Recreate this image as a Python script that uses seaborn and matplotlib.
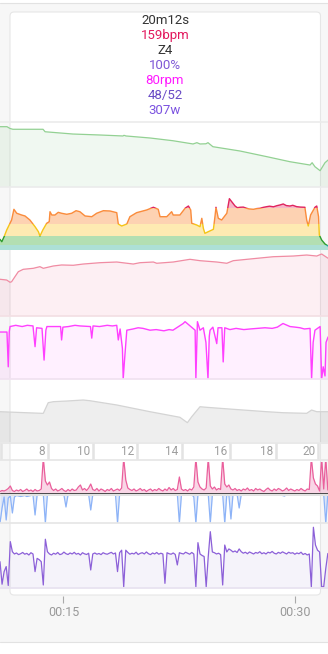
import numpy as np
import matplotlib
matplotlib.use("Agg")
import matplotlib.pyplot as plt
import seaborn as sns
from matplotlib.patches import Rectangle, FancyBboxPatch
from matplotlib.lines import Line2D
import matplotlib.transforms as mtransforms

# ---------------- data (time in seconds) ----------------
green_pts = [(654, 92.8), (681, 92.8), (693, 90), (704, 88.8), (821, 88.8), (829, 85), (937, 81.5),
             (1042, 80), (1131, 78.5), (1135, 79.5), (1143, 78.5), (1236, 75.4), (1325, 71.2),
             (1403, 66.2), (1418, 68.2), (1430, 66.2), (1453, 66.5), (1461, 68.2), (1480, 62),
             (1585, 55.4), (1690, 46.6), (1779, 38.9), (1857, 33.8), (1865, 37.4), (1876, 31.2),
             (1896, 25.1), (1915, 37.4), (1927, 41.5)]

hr_pts = [(654, 129.8), (661, 125.8), (670, 134.2), (680, 145.3), (699, 162), (708, 179.8), (719, 173.2),
          (738, 170.3), (751, 168.7), (770, 162), (790, 150.8), (803, 142.5), (809, 135.3), (820, 145.3),
          (835, 156.5), (845, 159.2), (848, 175.8), (855, 170.3), (867, 170.3), (880, 174.8), (893, 173.2),
          (913, 171.5), (932, 173.2), (949, 177.5), (964, 175.8), (984, 168.7), (1010, 167.5), (1029, 173.2),
          (1055, 177.5), (1081, 177), (1107, 174.2), (1113, 155.3), (1126, 152), (1146, 155.3), (1158, 167.5),
          (1184, 174.2), (1223, 178.7), (1249, 183.2), (1268, 179.8), (1275, 167.5), (1301, 167.5),
          (1320, 175.8), (1326, 170.3), (1352, 170.3), (1372, 181.5), (1385, 185.3), (1394, 178.7),
          (1398, 156.5), (1417, 153.7), (1430, 150.8), (1437, 164.8), (1443, 148.2), (1449, 139.8),
          (1462, 142.5), (1482, 146.5), (1488, 167.5), (1492, 183.2), (1501, 164.8), (1514, 162),
          (1534, 173.2), (1544, 197.5), (1553, 192.5), (1566, 185.3), (1575, 182.5), (1585, 183.2),
          (1598, 183.5), (1611, 181.5), (1620, 180.5), (1637, 179.8), (1650, 181), (1663, 181.5),
          (1675, 183), (1689, 184.2), (1700, 185), (1715, 184), (1728, 185.8), (1740, 187), (1753, 188.7),
          (1765, 186), (1779, 185.3), (1790, 186.5), (1805, 184.2), (1820, 183.5), (1837, 183.2),
          (1844, 162), (1850, 152), (1859, 170.3), (1876, 183.2), (1883, 185.3), (1890, 167.5),
          (1893, 137), (1902, 128.7), (1915, 122), (1927, 118.7)]
hr_zone_edges = [112, 120, 135, 155, 182, 260]

pink_pts = [(654, 58.3), (680, 57.1), (693, 53.5), (699, 54.4), (712, 62.4), (725, 70.3), (744, 74.1),
            (783, 75.7), (809, 78.3), (822, 75.7), (861, 79.4), (893, 81), (938, 80.5), (977, 82.5),
            (1042, 84.6), (1107, 85.7), (1171, 82.5), (1197, 84.6), (1249, 85.7), (1262, 83.7),
            (1326, 85.7), (1391, 90), (1430, 87.8), (1495, 85.7), (1534, 83.7), (1559, 87.8),
            (1637, 91), (1714, 94.1), (1792, 95.2), (1844, 96.8), (1883, 95.2), (1902, 98.4), (1927, 91.6)]

cad_pts = [(654, 77), (681, 77), (686, 20), (690, 78), (693, 86), (715, 88), (740, 86), (760, 88),
           (782, 87), (790, 53), (796, 84), (817, 83), (825, 31), (832, 80), (836, 86), (889, 86),
           (893, 64), (898, 85), (920, 86), (945, 88), (964, 87), (1005, 86), (1010, 67), (1015, 87),
           (1040, 86), (1070, 88), (1090, 87), (1107, 88), (1113, 64), (1120, 82), (1129, 50), (1132, 0),
           (1137, 30), (1146, 80), (1170, 82), (1190, 84), (1209, 83), (1236, 80), (1260, 81), (1290, 79),
           (1310, 81), (1325, 80), (1365, 91), (1372, 94), (1411, 80), (1414, 0), (1420, 94), (1430, 80),
           (1443, 84), (1453, 60), (1461, 0), (1466, 70), (1469, 80), (1480, 85), (1495, 58), (1500, 84),
           (1515, 84), (1520, 28), (1526, 84), (1546, 81), (1570, 83), (1600, 81), (1624, 82), (1682, 84),
           (1710, 83), (1730, 85), (1752, 91), (1779, 86), (1800, 85), (1818, 84), (1835, 82), (1857, 83),
           (1863, 0), (1869, 60), (1876, 80), (1896, 86), (1902, 0), (1908, 20), (1915, 5), (1919, 60),
           (1927, 69)]

grey_pts = [(654, 50.5), (816, 47.8), (822, 47.8), (841, 65.5), (861, 67.2), (913, 68.3), (977, 70),
            (1003, 68.8), (1107, 61.7), (1236, 50.5), (1352, 41.2), (1381, 32.2), (1398, 42.2),
            (1430, 58.8), (1456, 57.8), (1559, 54.5), (1689, 50.5), (1753, 48.8), (1844, 47.8),
            (1863, 53.3), (1883, 50.5), (1927, 50.5)]

dist_km = [6, 8, 10, 12, 14, 16, 18, 20]
dist_t = [658, 841, 1016, 1187, 1359, 1546, 1725, 1889]

# sampled series (one sample every 8 s starting at 654 s)
sample_start, sample_step = 654, 8
bal_up = [3, 5, 4, 6, 9, 14, 5, 3, 6, 4,
          7, 3, 5, 8, 4, 6, 3, 7, 4, 5,
          8, 70, 24, 16, 22, 9, 5, 8, 4, 6,
          9, 5, 3, 7, 4, 8, 5, 6, 12, 16,
          6, 9, 5, 10, 18, 7, 5, 9, 4, 8,
          6, 3, 7, 5, 9, 4, 6, 8, 5, 10,
          70, 26, 10, 7, 5, 8, 4, 6, 9, 5,
          7, 3, 6, 8, 4, 7, 5, 9, 6, 4,
          8, 5, 11, 6, 9, 5, 7, 32, 8, 5,
          7, 4, 8, 6, 12, 70, 22, 12, 8, 6,
          10, 70, 14, 8, 12, 6, 9, 7, 70, 18,
          12, 16, 8, 6, 9, 5, 7, 4, 8, 6,
          10, 5, 7, 4, 9, 6, 8, 5, 3, 7,
          10, 6, 4, 8, 5, 9, 7, 4, 6, 10,
          5, 8, 6, 4, 7, 5, 9, 6, 4, 8,
          7, 70, 30, 18, 14, 4, 70, 8, 70, 6]
bal_down = [-60, -30, -8, -54, -10, -6, -40, -8, -5, -6,
            -7, -6, -5, -7, -6, -5, -4, -44, -4, -3,
            -4, -3, -60, -3, -2, -3, -2, -4, -3, -2,
            -3, -4, -28, -3, -2, -3, -2, -3, -4, -2,
            -3, -2, -4, -3, -34, -3, -2, -3, -2, -4,
            -3, -2, -3, -4, -2, -3, -2, -60, -3, -2,
            -3, -2, -4, -3, -2, -3, -2, -3, -4, -2,
            -3, -2, -3, -2, -4, -3, -2, -3, -2, -3,
            -4, -2, -3, -2, -3, -4, -2, -60, -3, -2,
            -3, -2, -4, -3, -8, -60, -3, -2, -3, -2,
            -4, -3, -60, -3, -2, -3, -2, -4, -3, -60,
            -3, -4, -52, -3, -2, -3, -30, -3, -2, -3,
            -2, -4, -3, -2, -3, -2, -3, -4, -2, -3,
            -2, -3, -4, -2, -3, -2, -3, -5, -6, -3,
            -2, -3, -4, -2, -3, -2, -3, -4, -2, -3,
            -2, -3, -4, -3, -2, -3, -4, -3, -60, -3]
power_w = [209, 30, 130, 170, 20, 368, 288, 270, 278, 265,
           272, 282, 268, 275, 262, 280, 270, 130, 235, 225,
           209, 24, 387, 288, 270, 262, 276, 268, 282, 265,
           270, 285, 272, 266, 278, 270, 283, 268, 275, 262,
           280, 271, 266, 276, 143, 270, 278, 268, 274, 265,
           280, 272, 268, 276, 283, 270, 278, 130, 280, 300,
           10, 300, 282, 268, 276, 270, 284, 266, 275, 280,
           270, 286, 272, 265, 278, 270, 282, 268, 276, 270,
           37, 280, 272, 268, 278, 266, 183, 280, 274, 270,
           284, 276, 268, 282, 270, 10, 360, 270, 258, 250,
           10, 250, 447, 286, 280, 270, 276, 265, 24, 341,
           286, 310, 300, 286, 294, 282, 310, 288, 276, 284,
           272, 286, 278, 270, 282, 276, 288, 272, 280, 270,
           284, 278, 290, 276, 270, 283, 275, 287, 278, 270,
           284, 276, 280, 268, 278, 272, 284, 266, 274, 262,
           270, 10, 482, 341, 300, 286, 10, 10, 155, 274]

tooltip_lines = ["20m12s", "159bpm", "Z4", "100%", "80rpm", "48/52", "307w"]
tooltip_colors = ["#333333", "#e2195e", "#333333", "#7e57d6", "#ff1aff", "#6a4cc6", "#7b52e0"]
time_ticks = [900, 1800]
time_labels = ["00:15", "00:30"]

# ---------------- style ----------------
sns.set_theme(style="white")
plt.rcParams['font.family'] = ['Roboto', 'DejaVu Sans']

W, H = 328, 654
T0, T1 = 654, 654 + 328 * 3.88
fig = plt.figure(figsize=(W / 100, H / 100), dpi=100)
fig.patch.set_facecolor('white')
ident = mtransforms.IdentityTransform()

# page background and borders
fig.add_artist(Rectangle((0, H - 641.5), W, 639, transform=ident, fc='#f7f7f7', ec='none', zorder=-3))
for yy in (2.5, 641.5):
    fig.add_artist(Line2D([0, W], [H - yy, H - yy], transform=ident, color='#e2e2e2', lw=0.8, zorder=-2))
# tooltip box
fig.add_artist(FancyBboxPatch((10, H - 595), 310.5, 583, boxstyle='round,pad=0,rounding_size=4',
                              transform=ident, fc='white', ec='#e6e6e6', lw=0.8, zorder=-1))


def ax_at(top, bottom):
    a = fig.add_axes([0, 1 - bottom / H, 1, (bottom - top) / H])
    a.set_facecolor('none')
    for s in a.spines.values():
        s.set_visible(False)
    return a


def finish(a):
    a.set_xlim(T0, T1)
    a.set_xticks([])
    a.set_yticks([])
    a.set_xlabel('')
    a.set_ylabel('')


def line(a, t, v, color, lw=0.9, z=2):
    sns.lineplot(x=t, y=v, ax=a, color=color, linewidth=lw, estimator=None, sort=False, legend=False)
    ln = a.lines[-1]
    ln.set_solid_joinstyle('round')
    ln.set_zorder(z)
    return ln


def split(pts):
    pts = sorted(pts)
    return np.array([p[0] for p in pts], float), np.array([p[1] for p in pts], float)


samp_t = sample_start + sample_step * np.arange(len(power_w))

# P1 green
a1 = ax_at(122, 187)
t, v = split(green_pts)
a1.fill_between(t, 0, v, color='#4caf50', alpha=0.08, lw=0)
line(a1, t, v, '#93d193')
a1.set_ylim(0, 100)
for s in ('top', 'bottom'):
    a1.spines[s].set_visible(True)
    a1.spines[s].set_color('#ebebeb')
    a1.spines[s].set_linewidth(1.2)
finish(a1)

# P2 HR zones
a2 = ax_at(188, 250)
t, v = split(hr_pts)
zone_fill = ['#ade0d6', '#b3dfb2', '#feeab2', '#fdd2b2', '#f5b7c8']
zone_line = ['#26a69a', '#2e9d2e', '#f5c518', '#fa8c3c', '#e0245e']
for k in range(5):
    lo, hi = hr_zone_edges[k], hr_zone_edges[k + 1]
    poly = a2.fill_between(t, hr_zone_edges[0], v, color=zone_fill[k], lw=0)
    poly.set_clip_path(Rectangle((T0, lo), T1 - T0, hi - lo, transform=a2.transData))
    ln = line(a2, t, v, zone_line[k], lw=1.0)
    ln.set_clip_path(Rectangle((T0, lo), T1 - T0, hi - lo, transform=a2.transData))
a2.set_ylim(112, 215.3)
finish(a2)

# P3 pink
a3 = ax_at(253, 316)
t, v = split(pink_pts)
a3.fill_between(t, 0, v, color='#e91e63', alpha=0.07, lw=0)
line(a3, t, v, '#f08ca3')
a3.set_ylim(0, 100)
a3.spines['bottom'].set_visible(True)
a3.spines['bottom'].set_color('#f3dfe4')
finish(a3)

# P4 cadence
a4 = ax_at(318, 379)
t, v = split(cad_pts)
a4.fill_between(t, 0, v, color='#ff00ff', alpha=0.06, lw=0)
line(a4, t, v, '#ff40ff', lw=1.0)
a4.set_ylim(0, 100)
a4.spines['bottom'].set_visible(True)
a4.spines['bottom'].set_color('#f1e2f1')
finish(a4)

# P5 grey
a5 = ax_at(382, 442)
t, v = split(grey_pts)
a5.fill_between(t, 0, v, color='#000000', alpha=0.065, lw=0)
line(a5, t, v, '#d4d4d4')
a5.set_ylim(0, 100)
finish(a5)

# distance band
ad = ax_at(443, 460)
for s in ('top', 'bottom'):
    ad.spines[s].set_visible(True)
    ad.spines[s].set_color('#e6e6e6')
ad.vlines(dist_t, 0, 1, transform=ad.get_xaxis_transform(), color='#e3e3e3', lw=1.8)
lbl_tr = mtransforms.offset_copy(ad.get_xaxis_transform(), fig=fig, x=-3, y=0, units='dots')
for km, tt in zip(dist_km, dist_t):
    if tt - T0 < 40:   # label would fall outside the chart
        continue
    ad.text(tt, 0.5, str(km), transform=lbl_tr, ha='right', va='center', color='#9e9e9e',
            fontsize=8.5)
ad.set_ylim(0, 1)
finish(ad)

# P7 balance up/down
a7 = ax_at(462, 523)
a7.fill_between(samp_t, 0, bal_down, color='#8db3f7', alpha=0.25, lw=0, zorder=1)
line(a7, samp_t, bal_down, '#8db3f7', lw=0.9, z=1.5)
a7.axhspan(-5, 0, color='#e2e2e2', lw=0, zorder=2)
a7.fill_between(samp_t, 0, bal_up, color='#ea5f9c', alpha=0.25, lw=0, zorder=2.5)
line(a7, samp_t, bal_up, '#ea5f9c', lw=0.9, z=3)
a7.axhline(0, color='#333333', lw=0.6, zorder=3.5)
a7.set_ylim(-60, 62)
a7.spines['bottom'].set_visible(True)
a7.spines['bottom'].set_color('#e6e6e6')
finish(a7)

# P8 power
a8 = ax_at(525, 588)
a8.fill_between(samp_t, 0, power_w, color='#7e57c2', alpha=0.07, lw=0)
line(a8, samp_t, power_w, '#8c60d8', lw=0.9)
a8.set_ylim(0, 500)
a8.spines['bottom'].set_visible(True)
a8.spines['bottom'].set_color('#e8e2f0')
finish(a8)

# time axis
at = fig.add_axes([0, 1 - 596 / H, 1, 0.5 / H])
at.set_facecolor('none')
for s in at.spines.values():
    s.set_visible(False)
at.set_xlim(T0, T1)
at.set_yticks([])
at.set_xticks(time_ticks)
at.set_xticklabels(time_labels)
at.tick_params(axis='x', direction='out', length=5, width=0.8, color='#aaaaaa',
               labelcolor='#999999', labelsize=9, pad=2, bottom=True)

# tooltip text
for i, (txt, col) in enumerate(zip(tooltip_lines, tooltip_colors)):
    fig.text(165 / W, 1 - (20.7 + 15 * i) / H, txt, ha='center', va='center', color=col,
             fontsize=9.5, zorder=6)

fig.savefig('out.png', dpi=100)
